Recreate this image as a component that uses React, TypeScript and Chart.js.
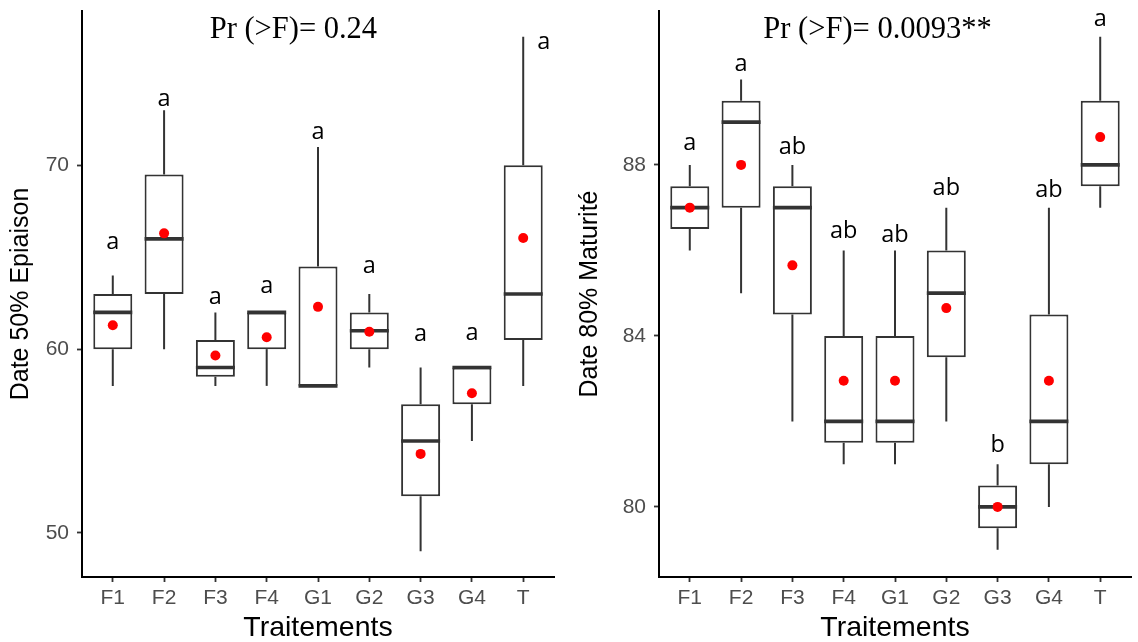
import React, { useEffect, useRef } from 'react';
import { Chart, registerables } from 'chart.js';

Chart.register(...registerables);

const categories = ['F1', 'F2', 'F3', 'F4', 'G1', 'G2', 'G3', 'G4', 'T'];

// Panel 1 : Date 50% Epiaison
const epiLow = [58, 60, 58, 58, 58, 59, 49, 55, 58];
const epiQ1 = [60, 63, 58.5, 60, 58, 60, 52, 57, 60.5];
const epiMedian = [62, 66, 59, 62, 58, 61, 55, 59, 63];
const epiQ3 = [63, 69.5, 60.5, 62, 64.5, 62, 57, 59, 70];
const epiHigh = [64, 73, 62, 62, 71, 63, 59, 59, 77];
const epiMean = [61.3, 66.3, 59.65, 60.65, 62.3, 60.95, 54.3, 57.6, 66.05];
const epiLetters = ['a', 'a', 'a', 'a', 'a', 'a', 'a', 'a', 'a'];
const epiLetterY = [65.8, 73.6, 62.8, 63.4, 71.8, 64.5, 60.8, 60.85, 76.7];
const epiLetterShift = [0, 0, 0, 0, 0, 0, 0, 0, 0.4];
const epiTicks = [50, 60, 70];
const epiTitle = 'Pr (>F)= 0.24';
const epiTitleX = 3.52;

// Panel 2 : Date 80% Maturité
const matLow = [86, 85, 82, 81, 81, 82, 79, 80, 87];
const matQ1 = [86.5, 87, 84.5, 81.5, 81.5, 83.5, 79.5, 81, 87.5];
const matMedian = [87, 89, 87, 82, 82, 85, 80, 82, 88];
const matQ3 = [87.5, 89.5, 87.5, 84, 84, 86, 80.5, 84.5, 89.5];
const matHigh = [88, 90, 88, 86, 86, 87, 81, 87, 91];
const matMean = [87, 88, 85.65, 82.95, 82.95, 84.65, 80, 82.95, 88.65];
const matLetters = ['a', 'a', 'ab', 'ab', 'ab', 'ab', 'b', 'ab', 'a'];
const matLetterY = [88.5, 90.35, 88.4, 86.45, 86.35, 87.45, 81.45, 87.4, 91.4];
const matLetterShift = [0, 0, 0, 0, 0, 0, 0, 0, 0];
const matTicks = [80, 84, 88];
const matTitle = 'Pr (>F)= 0.0093**';
const matTitleX = 3.66;

const SANS = '"Liberation Sans", Arial, sans-serif';

const boxPlugin = {
  id: 'boxExtras',
  afterDatasetDraw(chart: any, args: any, opts: any) {
    if (args.index !== 0) return;
    const { ctx } = chart;
    const x = chart.scales.x;
    const y = chart.scales.y;
    const meta = chart.getDatasetMeta(0);
    ctx.save();
    ctx.strokeStyle = '#333333';
    ctx.lineCap = 'butt';
    opts.low.forEach((lo: number, i: number) => {
      const cx = x.getPixelForValue(i);
      const half = meta.data[i].width / 2;
      ctx.lineWidth = 2;
      ctx.beginPath();
      ctx.moveTo(cx, y.getPixelForValue(opts.high[i]));
      ctx.lineTo(cx, y.getPixelForValue(opts.q3[i]));
      ctx.moveTo(cx, y.getPixelForValue(opts.q1[i]));
      ctx.lineTo(cx, y.getPixelForValue(lo));
      ctx.stroke();
      ctx.lineWidth = 3.6;
      ctx.beginPath();
      const my = y.getPixelForValue(opts.median[i]);
      ctx.moveTo(cx - half, my);
      ctx.lineTo(cx + half, my);
      ctx.stroke();
    });
    ctx.restore();
  },
  afterDraw(chart: any, _args: any, opts: any) {
    const { ctx } = chart;
    const x = chart.scales.x;
    const y = chart.scales.y;
    ctx.save();
    ctx.fillStyle = '#000000';
    ctx.font = '23.5px "Open Sans", "DejaVu Sans", sans-serif';
    ctx.textAlign = 'center';
    ctx.textBaseline = 'middle';
    opts.letters.forEach((t: string, i: number) => {
      ctx.fillText(t, x.getPixelForValue(i + opts.shift[i]), y.getPixelForValue(opts.letterY[i]));
    });
    ctx.font = '30.5px "Liberation Serif", "Times New Roman", serif';
    ctx.textBaseline = 'alphabetic';
    ctx.fillText(opts.title, x.getPixelForValue(opts.titleX), 38);
    ctx.restore();
  },
};

type PanelProps = {
  left: number;
  low: number[];
  q1: number[];
  median: number[];
  q3: number[];
  high: number[];
  mean: number[];
  letters: string[];
  letterY: number[];
  shift: number[];
  ticks: number[];
  yMin: number;
  yMax: number;
  yTitle: string;
  title: string;
  titleX: number;
  yWidth: number;
  padRight: number;
};

function Panel(p: PanelProps) {
  const ref = useRef<HTMLCanvasElement>(null);
  useEffect(() => {
    if (!ref.current) return;
    const chart = new Chart(ref.current, {
      type: 'bar',
      data: {
        datasets: [
          {
            type: 'bar',
            order: 2,
            data: categories.map((_, i) => ({ x: i, y: [p.q1[i], p.q3[i]] })) as any,
            backgroundColor: '#ffffff',
            borderColor: '#333333',
            borderWidth: 2,
            borderSkipped: false,
            barPercentage: 0.76,
            categoryPercentage: 1,
          },
          {
            type: 'line',
            order: 1,
            data: categories.map((_, i) => ({ x: i, y: p.mean[i] })) as any,
            showLine: false,
            pointRadius: 5,
            pointBackgroundColor: '#ff0000',
            pointBorderWidth: 0,
            pointBorderColor: '#ff0000',
          },
        ],
      } as any,
      options: {
        animation: false,
        responsive: false,
        devicePixelRatio: 1,
        layout: { padding: { top: 11, right: p.padRight, left: 0, bottom: 0 } },
        plugins: {
          legend: { display: false },
          tooltip: { enabled: false },
          boxExtras: {
            low: p.low,
            q1: p.q1,
            median: p.median,
            q3: p.q3,
            high: p.high,
            letters: p.letters,
            letterY: p.letterY,
            shift: p.shift,
            title: p.title,
            titleX: p.titleX,
          },
        } as any,
        scales: {
          x: {
            type: 'linear',
            offset: false,
            min: -0.6,
            max: 8.6,
            afterBuildTicks: (s: any) => {
              s.ticks = categories.map((_, i) => ({ value: i }));
            },
            afterFit: (s: any) => {
              s.height = 65;
            },
            ticks: {
              callback: (v: any) => categories[Math.round(Number(v))],
              color: '#4d4d4d',
              font: { family: SANS, size: 21 },
              padding: 4,
              autoSkip: false,
              maxRotation: 0,
            },
            grid: {
              offset: false,
              drawOnChartArea: false,
              drawTicks: true,
              tickLength: 5,
              tickColor: '#333333',
              tickWidth: 1.8,
            },
            border: { display: true, color: '#000000', width: 2 },
            title: {
              display: true,
              text: 'Traitements',
              color: '#000000',
              font: { family: SANS, size: 28.5 },
              padding: { top: 0, bottom: -3 },
            },
          },
          y: {
            type: 'linear',
            min: p.yMin,
            max: p.yMax,
            afterBuildTicks: (s: any) => {
              s.ticks = p.ticks.map((v) => ({ value: v }));
            },
            afterFit: (s: any) => {
              s.width = p.yWidth;
              s.paddingTop = 0;
              s.paddingBottom = 0;
            },
            ticks: {
              color: '#4d4d4d',
              font: { family: SANS, size: 21, lineHeight: 0.8 },
              padding: 8,
            },
            grid: { drawOnChartArea: false, drawTicks: true, tickLength: 5, tickColor: '#333333', tickWidth: 1.8 },
            border: { display: true, color: '#000000', width: 2 },
            title: {
              display: true,
              text: p.yTitle,
              color: '#000000',
              font: { family: SANS, size: 25 },
              padding: { top: 6, bottom: 0 },
            },
          },
        } as any,
      },
      plugins: [boxPlugin],
    });
    return () => chart.destroy();
  }, []);
  return (
    <div style={{ position: 'absolute', left: p.left, top: 0, width: 569, height: 642 }}>
      <canvas ref={ref} width={569} height={642} style={{ width: 569, height: 642, display: 'block' }} />
    </div>
  );
}

export default function App() {
  return (
    <div style={{ position: 'absolute', left: 0, top: 0, width: 1138, height: 642, background: '#ffffff' }}>
      <Panel
        left={0}
        low={epiLow}
        q1={epiQ1}
        median={epiMedian}
        q3={epiQ3}
        high={epiHigh}
        mean={epiMean}
        letters={epiLetters}
        letterY={epiLetterY}
        shift={epiLetterShift}
        ticks={epiTicks}
        yMin={47.6}
        yMax={78.4}
        yTitle="Date 50% Epiaison"
        title={epiTitle}
        titleX={epiTitleX}
        yWidth={82}
        padRight={15}
      />
      <Panel
        left={569}
        low={matLow}
        q1={matQ1}
        median={matMedian}
        q3={matQ3}
        high={matHigh}
        mean={matMean}
        letters={matLetters}
        letterY={matLetterY}
        shift={matLetterShift}
        ticks={matTicks}
        yMin={78.36}
        yMax={91.6}
        yTitle="Date 80% Maturité"
        title={matTitle}
        titleX={matTitleX}
        yWidth={90}
        padRight={7}
      />
    </div>
  );
}
